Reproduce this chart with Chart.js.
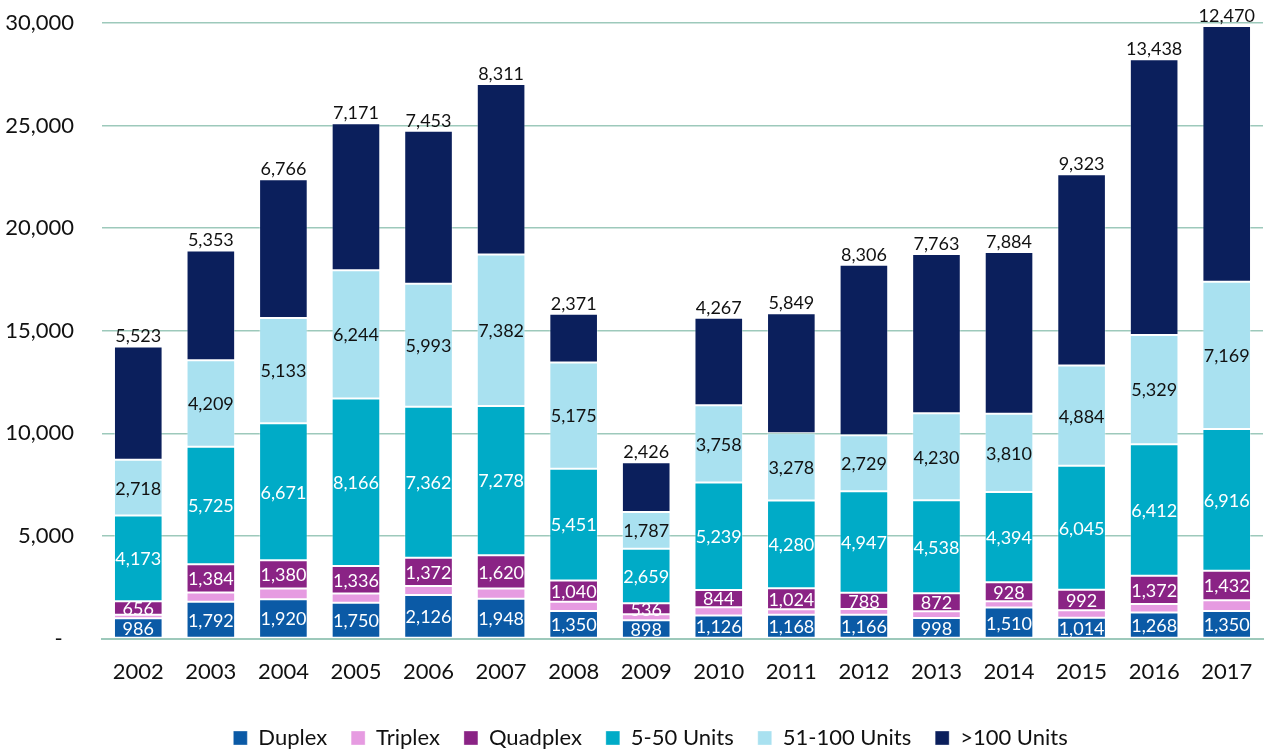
<!DOCTYPE html>
<html lang="en">
<head>
    <meta charset="UTF-8">
    <title>Multifamily permits by type</title>
    <script src="https://cdn.jsdelivr.net/npm/chart.js"></script>
    <style>
        body { margin: 0; background: #fff; }
        #wrap { width: 1269px; height: 752px; }
    </style>
</head>
<body>
    <div id="wrap">
        <canvas id="permitChart" width="1269" height="752"></canvas>
    </div>

<script>
// data
const years = ['2002','2003','2004','2005','2006','2007','2008','2009','2010','2011','2012','2013','2014','2015','2016','2017'];
const duplex    = [986, 1792, 1920, 1750, 2126, 1948, 1350, 898, 1126, 1168, 1166, 998, 1510, 1014, 1268, 1350];
// triplex is not labelled in the picture
const triplex   = [180, 450, 520, 450, 440, 490, 440, 290, 400, 260, 280, 340, 310, 370, 420, 520];
const quadplex  = [656, 1384, 1380, 1336, 1372, 1620, 1040, 536, 844, 1024, 788, 872, 928, 992, 1372, 1432];
const units5to50   = [4173, 5725, 6671, 8166, 7362, 7278, 5451, 2659, 5239, 4280, 4947, 4538, 4394, 6045, 6412, 6916];
const units51to100 = [2718, 4209, 5133, 6244, 5993, 7382, 5175, 1787, 3758, 3278, 2729, 4230, 3810, 4884, 5329, 7169];
const unitsOver100 = [5523, 5353, 6766, 7171, 7453, 8311, 2371, 2426, 4267, 5849, 8306, 7763, 7884, 9323, 13438, 12470];
const yTicks = [0, 5000, 10000, 15000, 20000, 25000, 30000];

const FONT = 'Lato, "Noto Sans", sans-serif';

function fmt(v) {
    return v.toLocaleString('en-US');
}

// draws the numbers inside each segment, and the top one above the bar
const segmentLabels = {
    id: 'segmentLabels',
    afterLayout(chart) {
        // the original legend sits a little right of centre
        chart.legend.left += 16;
        chart.legend.right += 16;
    },
    afterDatasetsDraw(chart) {
        const ctx = chart.ctx;
        ctx.save();
        ctx.font = '18px ' + FONT;
        ctx.textAlign = 'center';
        chart.data.datasets.forEach((ds, di) => {
            if (!ds.labelColor) return;
            const meta = chart.getDatasetMeta(di);
            meta.data.forEach((bar, i) => {
                const text = fmt(ds.data[i]);
                ctx.fillStyle = ds.labelColor;
                if (ds.labelOnTop) {
                    ctx.textBaseline = 'bottom';
                    ctx.fillText(text, bar.x, bar.y - 1);
                } else {
                    ctx.textBaseline = 'middle';
                    ctx.fillText(text, bar.x, (bar.y + bar.base) / 2 + 1);
                }
            });
        });
        ctx.restore();
    }
};

function series(label, data, color, labelColor, labelOnTop) {
    return {
        label: label,
        data: data,
        backgroundColor: color,
        borderColor: 'rgba(255,255,255,0.35)',
        borderWidth: 1,
        borderSkipped: false,
        labelColor: labelColor,
        labelOnTop: labelOnTop || false
    };
}

new Chart(document.getElementById('permitChart'), {
    type: 'bar',
    data: {
        labels: years,
        datasets: [
            series('Duplex', duplex, '#0b5aa6', '#ffffff'),
            series('Triplex', triplex, '#e69be1', null),
            series('Quadplex', quadplex, '#8a2385', '#ffffff'),
            series('5-50 Units', units5to50, '#00abc7', '#ffffff'),
            series('51-100 Units', units51to100, '#a9e1f0', '#111111'),
            series('>100 Units', unitsOver100, '#0b1f5c', '#111111', true)
        ]
    },
    options: {
        responsive: false,
        animation: false,
        layout: { padding: { left: 6, right: 6, top: 23, bottom: -7 } },
        datasets: {
            bar: { categoryPercentage: 1, barPercentage: 0.67 }
        },
        scales: {
            x: {
                stacked: true,
                afterFit(axis) {
                    axis.height += 6;
                },
                grid: { display: false },
                border: { display: true, color: '#9dc9bb', width: 2 },
                ticks: { color: '#111', font: { family: FONT, size: 22 }, padding: 12 }
            },
            y: {
                stacked: true,
                min: 0,
                max: 30000,
                afterBuildTicks(axis) {
                    axis.ticks = yTicks.map(v => ({ value: v }));
                },
                afterFit(axis) {
                    axis.width = 96;
                    axis.paddingTop = 12;
                    axis.paddingBottom = 12;
                },
                grid: { color: '#9dc9bb', lineWidth: 1.5, drawTicks: false },
                border: { display: false },
                ticks: {
                    color: '#111',
                    font: { family: FONT, size: 22 },
                    padding: 28,
                    callback: v => v === 0 ? '-  ' : fmt(v)
                }
            }
        },
        plugins: {
            legend: {
                position: 'bottom',
                labels: {
                    color: '#111',
                    font: { family: FONT, size: 22 },
                    boxWidth: 14,
                    boxHeight: 14,
                    padding: 24
                }
            },
            tooltip: { enabled: false }
        }
    },
    plugins: [segmentLabels]
});
</script>
</body>
</html>
